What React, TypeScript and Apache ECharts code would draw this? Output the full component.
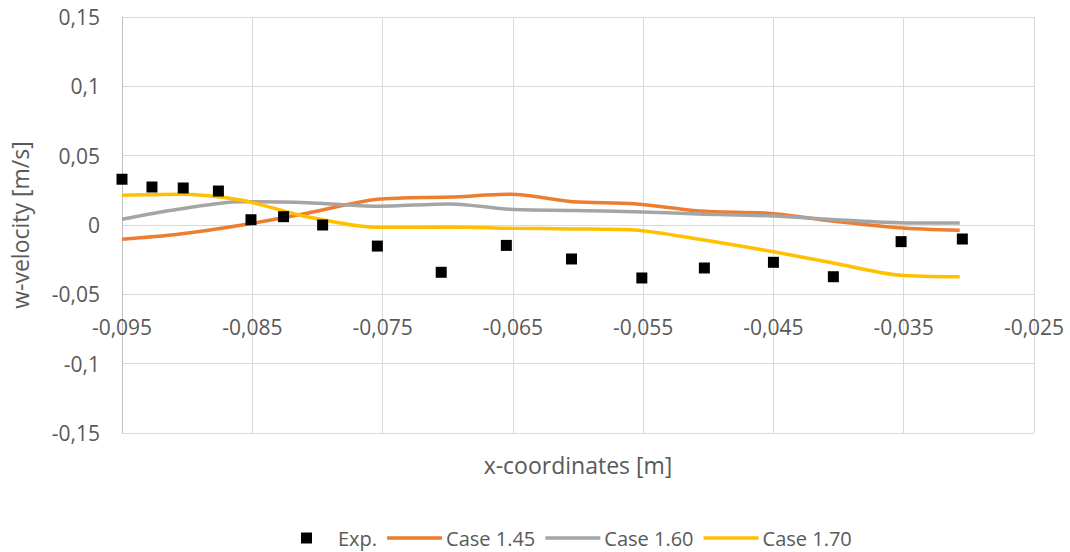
import React, { useEffect, useRef } from "react";
import * as echarts from "echarts";

const expX = [-0.095, -0.0927, -0.0903, -0.0876, -0.0851, -0.0826, -0.0796, -0.0754, -0.0705, -0.0655, -0.0605, -0.0551, -0.0503, -0.045, -0.0404, -0.0352, -0.0305];
const expY = [0.033, 0.0274, 0.0267, 0.0245, 0.0038, 0.006, 0.0, -0.0152, -0.0341, -0.0147, -0.0245, -0.0382, -0.031, -0.0269, -0.0373, -0.012, -0.0101];

const caseX = [-0.095, -0.0907, -0.0859, -0.0808, -0.0754, -0.0698, -0.0652, -0.0604, -0.0557, -0.0507, -0.045, -0.0405, -0.0354, -0.0307];
const case145 = [-0.0103, -0.0067, -0.0002, 0.0085, 0.0185, 0.0202, 0.0221, 0.0168, 0.0154, 0.0101, 0.0082, 0.0029, -0.0019, -0.0038];
const case160 = [0.0041, 0.0113, 0.0168, 0.0161, 0.0135, 0.0152, 0.0113, 0.0105, 0.0096, 0.008, 0.0065, 0.004, 0.0017, 0.0014];
const case170 = [0.0214, 0.0221, 0.018, 0.006, -0.0017, -0.0014, -0.0024, -0.0028, -0.0036, -0.0103, -0.0193, -0.0272, -0.0361, -0.0373];

const seriesNames = ["Exp.", "Case 1.45", "Case 1.60", "Case 1.70"];
const xTitle = "x-coordinates [m]";
const yTitle = "w-velocity [m/s]";

const FONT = "'Open Sans', sans-serif";
const TEXT = "#595959";

const fmt = (v: number) => {
  const r = Math.round(v * 1000) / 1000;
  return String(r).replace(".", ",");
};

const pair = (xs: number[], ys: number[]) => xs.map((x, i) => [x, ys[i]]);

const squareIcon = "path://M0,0h0.01v0.01h-0.01zM22,0h11v11h-11zM55,10.99h0.01v0.01h-0.01z";
const lineIcon = "path://M0,0h0.01v0.01h-0.01zM0,3.75h55v3.5h-55zM55,10.99h0.01v0.01h-0.01z";

export default function App() {
  const ref = useRef<HTMLDivElement>(null);
  useEffect(() => {
    document.body.style.margin = "0";
    if (!ref.current) return;
    const chart = echarts.init(ref.current, undefined, { renderer: "svg" });
    chart.setOption({
      animation: false,
      backgroundColor: "#ffffff",
      textStyle: { fontFamily: FONT },
      grid: { left: 121, right: 36, top: 17, bottom: 119, containLabel: false },
      xAxis: {
        type: "value",
        min: -0.095,
        max: -0.025,
        interval: 0.01,
        name: xTitle,
        nameLocation: "middle",
        nameGap: 20,
        nameTextStyle: { color: TEXT, fontSize: 23, fontFamily: FONT },
        axisLine: { show: false, onZero: false },
        axisTick: { show: false },
        axisLabel: { color: TEXT, fontSize: 21, fontFamily: FONT, margin: -117, formatter: fmt },
        splitLine: { show: true, lineStyle: { color: "#d9d9d9", width: 1 } },
      },
      yAxis: {
        type: "value",
        min: -0.15,
        max: 0.15,
        interval: 0.05,
        name: yTitle,
        nameLocation: "middle",
        nameGap: 91,
        nameRotate: 90,
        nameTextStyle: { color: TEXT, fontSize: 23, fontFamily: FONT },
        axisLine: { show: true, lineStyle: { color: "#bfbfbf", width: 1 } },
        axisTick: { show: false },
        axisLabel: { color: TEXT, fontSize: 21, fontFamily: FONT, margin: 22, formatter: fmt },
        splitLine: { show: true, lineStyle: { color: "#d9d9d9", width: 1 } },
      },
      legend: {
        left: 274,
        top: 523,
        itemWidth: 55,
        itemHeight: 11,
        itemGap: 10,
        textStyle: { color: TEXT, fontSize: 20, fontFamily: FONT, padding: [0, 0, 0, -1] },
        data: [
          { name: seriesNames[0], icon: squareIcon, itemStyle: { color: "#000000", opacity: 1 } },
          { name: seriesNames[1], icon: lineIcon },
          { name: seriesNames[2], icon: lineIcon },
          { name: seriesNames[3], icon: lineIcon },
        ],
      },
      series: [
        {
          name: seriesNames[1],
          type: "line",
          data: pair(caseX, case145),
          smooth: 0.3,
          symbol: "none",
          lineStyle: { color: "#ED7D31", width: 3.5 },
          itemStyle: { color: "#ED7D31" },
          z: 2,
        },
        {
          name: seriesNames[2],
          type: "line",
          data: pair(caseX, case160),
          smooth: 0.3,
          symbol: "none",
          lineStyle: { color: "#A5A5A5", width: 3.5 },
          itemStyle: { color: "#A5A5A5" },
          z: 2,
        },
        {
          name: seriesNames[3],
          type: "line",
          data: pair(caseX, case170),
          smooth: 0.3,
          symbol: "none",
          lineStyle: { color: "#FFC000", width: 3.5 },
          itemStyle: { color: "#FFC000" },
          z: 2,
        },
        {
          name: seriesNames[0],
          type: "scatter",
          data: pair(expX, expY),
          symbol: "rect",
          symbolSize: 11,
          itemStyle: { color: "#000000", opacity: 1 },
          z: 3,
        },
      ],
    });
    return () => chart.dispose();
  }, []);
  return <div ref={ref} style={{ width: 1070, height: 552 }} />;
}
